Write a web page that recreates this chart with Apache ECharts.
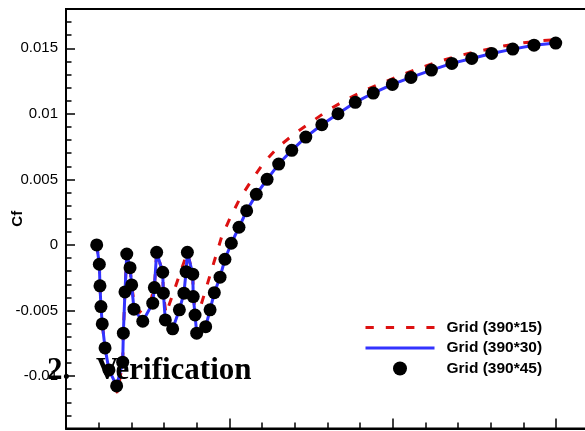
<!DOCTYPE html>
<html>
<head>
<meta charset="utf-8">
<script src="https://cdn.jsdelivr.net/npm/echarts@6/dist/echarts.min.js"></script>
<style>
  html, body { margin: 0; padding: 0; background: #fff; }
  #chart { width: 585px; height: 431px; }
</style>
</head>
<body>
<div id="chart"></div>
<script>
// Skin-friction coefficient along the wall for three grid resolutions.

// Grid (390*15): coarse grid, dashed red
const coarseX = [0.188, 0.204, 0.208, 0.214, 0.222, 0.239, 0.263, 0.315, 0.347, 0.351, 0.361, 0.372,
  0.392, 0.402, 0.416, 0.447, 0.520, 0.541, 0.555, 0.592, 0.596, 0.612, 0.743, 0.776, 0.779, 0.799,
  0.953, 1.004, 1.065, 1.137, 1.208, 1.300, 1.402, 1.504, 1.606, 1.719, 1.831, 1.954, 2.065, 2.188,
  2.310, 2.433, 2.555, 2.677, 2.800, 2.922, 3.004];
const coarseCf = [0, -0.00147, -0.00312, -0.00470, -0.00602, -0.00785, -0.00968, -0.01128, -0.00894, -0.00673, -0.00358, -0.00069,
  -0.00173, -0.00305, -0.00434, -0.00518, -0.00419, -0.00325, -0.00056, -0.00208, -0.00368, -0.00526, -0.00056, -0.00223, -0.00394, -0.00572,
  0.00063, 0.00204, 0.00356, 0.00495, 0.00623, 0.00749, 0.00851, 0.00940, 0.01029, 0.01111, 0.01181, 0.01245, 0.01303, 0.01359,
  0.01410, 0.01452, 0.01486, 0.01517, 0.01542, 0.01559, 0.01566];

// Grid (390*30): medium grid, solid blue
const mediumX = [0.188, 0.204, 0.208, 0.214, 0.222, 0.239, 0.263, 0.310, 0.347, 0.351, 0.361, 0.372,
  0.392, 0.402, 0.416, 0.470, 0.531, 0.541, 0.555, 0.592, 0.596, 0.608, 0.653, 0.694, 0.722, 0.735, 0.743,
  0.776, 0.779, 0.790, 0.800, 0.855, 0.882, 0.908, 0.943, 0.973, 1.012, 1.059, 1.106, 1.165, 1.231,
  1.302, 1.382, 1.468, 1.566, 1.665, 1.771, 1.881, 1.998, 2.112, 2.237, 2.362, 2.484, 2.606, 2.735,
  2.865, 2.998];
const mediumCf = [0, -0.00147, -0.00312, -0.00470, -0.00602, -0.00785, -0.00953, -0.01075, -0.00894, -0.00673, -0.00358, -0.00069,
  -0.00173, -0.00305, -0.00490, -0.00582, -0.00444, -0.00325, -0.00056, -0.00208, -0.00368, -0.00572, -0.00640, -0.00495, -0.00368, -0.00204, -0.00056,
  -0.00223, -0.00394, -0.00534, -0.00673, -0.00623, -0.00495, -0.00364, -0.00246, -0.00109, 0.00013, 0.00135, 0.00261, 0.00386, 0.00501,
  0.00617, 0.00722, 0.00823, 0.00917, 0.01001, 0.01088, 0.01159, 0.01225, 0.01278, 0.01334, 0.01385, 0.01423, 0.01461, 0.01494,
  0.01524, 0.01540];

// Grid (390*45): fine grid, black markers
const fineX = mediumX.slice();
const fineCf = mediumCf.slice();

// Axis ticks
const yLabelValues = [-0.01, -0.005, 0, 0.005, 0.01, 0.015];
const seriesNames = ['Grid (390*15)', 'Grid (390*30)', 'Grid (390*45)'];

const RED = '#dd1111';
const BLUE = '#3333ff';
const DASH = [8.3, 12];
const NO_FILL = { color: 'rgba(0,0,0,0)', borderWidth: 0 };

const pairs = (xs, ys) => xs.map((x, i) => [x, ys[i]]);

const chart = echarts.init(document.getElementById('chart'), null, { renderer: 'canvas' });

chart.setOption({
  animation: false,
  backgroundColor: '#fff',
  grid: {
    left: 66, top: 9, width: 653.4, height: 419.5,
    outerBoundsMode: 'none', containLabel: false,
    show: true, borderColor: '#000', borderWidth: 2, backgroundColor: 'transparent'
  },
  xAxis: {
    type: 'value', min: 0, max: 4, interval: 1,
    axisLine: { onZero: false, lineStyle: { color: '#000', width: 2 } },
    axisTick: { inside: true, length: 10, lineStyle: { color: '#000', width: 1.5 } },
    minorTick: { show: true, splitNumber: 5, length: 6, lineStyle: { color: '#000', width: 1.5 } },
    axisLabel: { show: false },
    splitLine: { show: false }
  },
  yAxis: [
    {
      type: 'value', min: -0.014, max: 0.018, position: 'left',
      name: 'Cf', nameLocation: 'middle', nameRotate: 90, nameGap: 41, nameMoveOverlap: false,
      nameTextStyle: { fontFamily: 'Liberation Sans', fontWeight: 'bold', fontSize: 15, color: '#000' },
      axisLine: { show: true, onZero: false, lineStyle: { color: '#000', width: 2 } },
      axisTick: { inside: true, length: 9, customValues: yLabelValues, lineStyle: { color: '#000', width: 1.5 } },
      axisLabel: {
        customValues: yLabelValues, margin: 8,
        fontFamily: 'Liberation Sans', fontSize: 15, color: '#000',
        formatter: v => String(Math.round(v * 1000) / 1000)
      },
      splitLine: { show: false }
    },
    {
      type: 'value', min: -0.014, max: 0.018, interval: 0.001, position: 'left',
      axisLine: { show: false, onZero: false },
      axisTick: { show: true, inside: true, length: 5.5, lineStyle: { color: '#000', width: 1.5 } },
      axisLabel: { show: false },
      splitLine: { show: false }
    }
  ],
  legend: {
    orient: 'vertical', left: 364, top: 319.5,
    itemWidth: 69, itemHeight: 14, itemGap: 4.5, padding: 0,
    textStyle: { fontFamily: 'Liberation Sans', fontWeight: 'bold', fontSize: 15.5, color: '#000', padding: [0, 0, 0, 7] },
    data: [
      { name: seriesNames[0], lineStyle: { color: RED, width: 3, type: DASH }, itemStyle: NO_FILL },
      { name: seriesNames[1], lineStyle: { color: BLUE, width: 3 }, itemStyle: NO_FILL },
      { name: seriesNames[2], icon: 'circle', itemStyle: { color: '#000' } }
    ]
  },
  series: [
    {
      name: seriesNames[0], type: 'line', yAxisIndex: 0, data: pairs(coarseX, coarseCf),
      symbol: 'none', z: 2,
      lineStyle: { color: RED, width: 3, type: DASH }, itemStyle: { color: RED }
    },
    {
      name: seriesNames[1], type: 'line', yAxisIndex: 0, data: pairs(mediumX, mediumCf),
      symbol: 'none', z: 3,
      lineStyle: { color: BLUE, width: 3 }, itemStyle: { color: BLUE }
    },
    {
      name: seriesNames[2], type: 'scatter', yAxisIndex: 0, data: pairs(fineX, fineCf),
      symbol: 'circle', symbolSize: 13, z: 4,
      itemStyle: { color: '#000', opacity: 1 }
    }
  ],
  graphic: [
    {
      type: 'text', x: 47, y: 370.5, z: 100,
      style: { text: '2.', font: 'bold 31px "Liberation Serif"', fill: '#000', verticalAlign: 'middle', align: 'left' }
    },
    {
      type: 'text', x: 96, y: 370.5, z: 100,
      style: { text: 'Verification', font: 'bold 31px "Liberation Serif"', fill: '#000', verticalAlign: 'middle', align: 'left' }
    }
  ]
});
</script>
</body>
</html>
